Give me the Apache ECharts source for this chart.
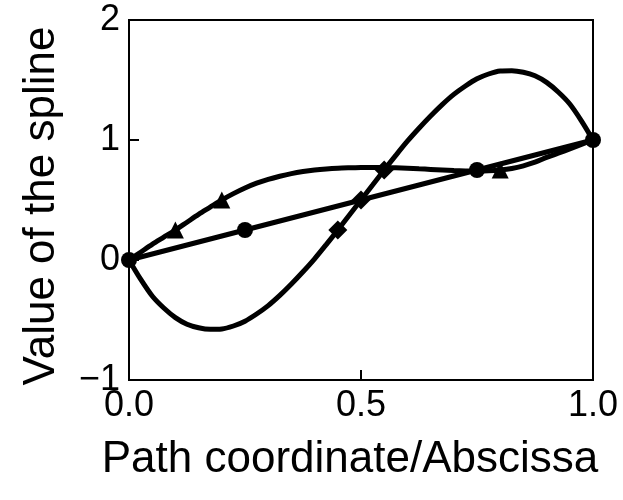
<!DOCTYPE html>
<html>
<head>
<meta charset="utf-8">
<script src="https://cdn.jsdelivr.net/npm/echarts@6/dist/echarts.min.js"></script>
<style>
  html, body { margin: 0; padding: 0; background: #fff; }
  #chart { width: 623px; height: 500px; }
</style>
</head>
<body>
<div id="chart"></div>
<script>
// Straight line through the knots, drawn with circle markers
const linearKnotsX = [0, 0.25, 0.75, 1];
const linearKnotsY = [0, 0.25, 0.75, 1];

// Spline through the triangle knots, sampled along the path
const triCurveX = [0, 0.025, 0.05, 0.075, 0.1, 0.125, 0.15, 0.175, 0.2, 0.225, 0.25, 0.275, 0.3, 0.325, 0.35, 0.375, 0.4, 0.425, 0.45, 0.475, 0.5,
                   0.525, 0.55, 0.575, 0.6, 0.625, 0.65, 0.675, 0.7, 0.725, 0.75, 0.775, 0.8, 0.825, 0.85, 0.875, 0.9, 0.925, 0.95, 0.975, 1];
const triCurveY = [0, 0.065, 0.13, 0.19, 0.25, 0.315, 0.38, 0.44, 0.5, 0.553, 0.6, 0.64, 0.672, 0.698, 0.72, 0.737, 0.75, 0.759, 0.765, 0.768, 0.77,
                   0.771, 0.77, 0.768, 0.765, 0.76, 0.755, 0.75, 0.745, 0.742, 0.741, 0.743, 0.75, 0.763, 0.785, 0.815, 0.855, 0.89, 0.926, 0.963, 1];
const triKnotsX = [0.1, 0.2, 0.8];
const triKnotsY = [0.25, 0.5, 0.75];

// Spline through the diamond knots, sampled along the path
const diaCurveX = [0, 0.025, 0.05, 0.075, 0.1, 0.125, 0.15, 0.175, 0.2, 0.225, 0.25, 0.275, 0.3, 0.325, 0.35, 0.375, 0.4, 0.425, 0.45, 0.475, 0.5,
                   0.525, 0.55, 0.575, 0.6, 0.625, 0.65, 0.675, 0.7, 0.725, 0.75, 0.775, 0.8, 0.825, 0.85, 0.875, 0.9, 0.925, 0.95, 0.975, 1];
const diaCurveY = [0, -0.16, -0.3, -0.4, -0.48, -0.535, -0.565, -0.578, -0.575, -0.55, -0.51, -0.45, -0.38, -0.295, -0.2, -0.098, 0.01, 0.128, 0.25, 0.375, 0.5,
                   0.625, 0.75, 0.872, 0.99, 1.098, 1.2, 1.295, 1.38, 1.45, 1.51, 1.55, 1.575, 1.578, 1.565, 1.535, 1.48, 1.4, 1.3, 1.16, 1];
const diaKnotsX = [0.45, 0.5, 0.55];
const diaKnotsY = [0.25, 0.5, 0.75];

// Axis ticks
const xTicks = { min: 0, max: 1, step: 0.5 };
const yTicks = { min: -1, max: 2, step: 1 };

const zip = (xs, ys) => xs.map((x, i) => [x, ys[i]]);

const FONT = "'Liberation Sans', Arial, sans-serif";
const INK = '#000';
const LINE_W = 5;

const chart = echarts.init(document.getElementById('chart'), null, { renderer: 'canvas' });

const axisCommon = {
  type: 'value',
  axisLine: { show: true, onZero: false, lineStyle: { color: INK, width: 2 } },
  axisTick: { show: true, inside: true, length: 10, lineStyle: { color: INK, width: 2 } },
  splitLine: { show: false },
  nameLocation: 'middle'
};

chart.setOption({
  animation: false,
  backgroundColor: '#fff',
  grid: {
    left: 129, right: 30, top: 20, bottom: 120,
    show: true, borderColor: INK, borderWidth: 2, backgroundColor: 'transparent'
  },
  xAxis: Object.assign({}, axisCommon, {
    min: xTicks.min, max: xTicks.max, interval: xTicks.step,
    name: 'Path coordinate/Abscissa',
    nameGap: 58,
    nameTextStyle: { fontFamily: FONT, fontSize: 44, color: INK, padding: [0, 22, 0, 0] },
    axisLabel: {
      fontFamily: FONT, fontSize: 36, color: INK, margin: 8,
      formatter: v => v.toFixed(1)
    }
  }),
  yAxis: Object.assign({}, axisCommon, {
    min: yTicks.min, max: yTicks.max, interval: yTicks.step,
    name: 'Value of the spline',
    nameGap: 65,
    nameTextStyle: { fontFamily: FONT, fontSize: 44, color: INK, padding: [0, 12, 0, 0] },
    axisLabel: {
      fontFamily: FONT, fontSize: 36, color: INK, margin: 9,
      formatter: v => String(v).replace('-', '\u2212')
    }
  }),
  series: [
    {
      type: 'line', data: zip(diaCurveX, diaCurveY), smooth: 0.3,
      showSymbol: false, lineStyle: { color: INK, width: LINE_W }, z: 2
    },
    {
      type: 'line', data: zip(triCurveX, triCurveY), smooth: 0.3,
      showSymbol: false, lineStyle: { color: INK, width: LINE_W }, z: 2
    },
    {
      type: 'line', data: zip(linearKnotsX, linearKnotsY),
      symbol: 'circle', symbolSize: 16, showAllSymbol: true,
      itemStyle: { color: INK, opacity: 1 }, lineStyle: { color: INK, width: LINE_W }, z: 3
    },
    {
      type: 'scatter', data: zip(triKnotsX, triKnotsY),
      symbol: 'triangle', symbolSize: 17, itemStyle: { color: INK, opacity: 1 }, z: 4
    },
    {
      type: 'scatter', data: zip(diaKnotsX, diaKnotsY),
      symbol: 'diamond', symbolSize: 19, itemStyle: { color: INK, opacity: 1 }, z: 4
    }
  ]
});
</script>
</body>
</html>
